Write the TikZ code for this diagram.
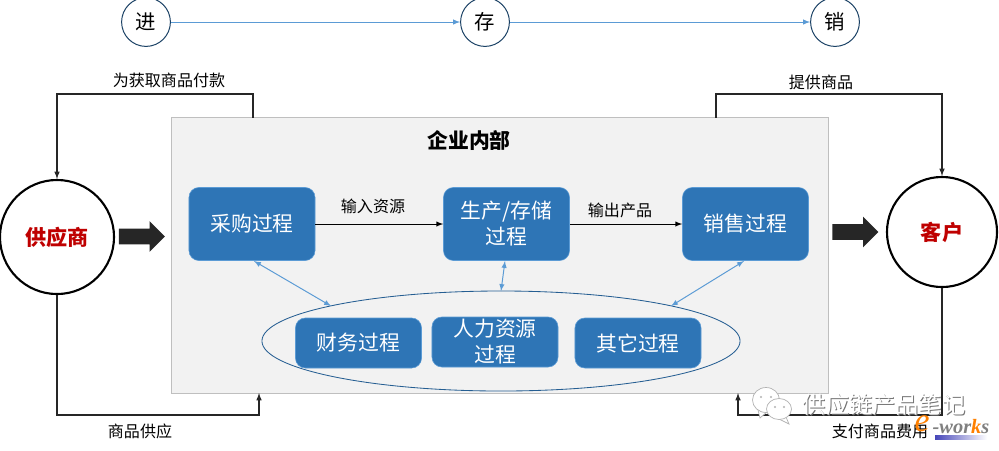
\documentclass[tikz,border=0pt]{standalone}
\usepackage{fontspec}
\setmainfont{Noto Sans CJK SC}
\newfontfamily\logofont{Liberation Serif}
\usepackage{tikz}
\usetikzlibrary{arrows,calc,shapes.arrows,shapes.geometric}
\definecolor{boxblue}{HTML}{2E75B6}
\definecolor{linkblue}{HTML}{5B9BD5}
\definecolor{panelgray}{HTML}{F2F2F2}
\tikzset{
  procbox/.style={draw=linkblue,fill=boxblue,rounded corners=7pt,text=white,align=center,inner sep=0pt,
    minimum width=3.15cm,font=\fontsize{14.8}{18.5}\selectfont},
  stagecircle/.style={circle,draw=boxblue!55!black,line width=.7pt,fill=white,minimum size=1.22cm,inner sep=0pt,font=\fontsize{14.5}{16}\selectfont},
  partycircle/.style={circle,draw=black,line width=1.5pt,fill=white,inner sep=0pt,text=red!75!black,font=\fontsize{15}{16}\selectfont\bfseries},
  flowlabel/.style={font=\fontsize{11.4}{13}\selectfont,inner sep=0pt},
  bigarrow/.style={single arrow,fill=black!85,inner sep=.1875cm,minimum width=.75cm,minimum height=1.15cm,single arrow head extend=.1875cm},
  loopline/.style={draw=black!85,line width=.8pt,-latex},
  linkline/.style={draw=linkblue,line width=.7pt,latex-latex},
  bubble/.style={draw=black!30,fill=white,line width=.5pt},
}
\begin{document}
\begin{tikzpicture}[x=0.025cm,y=-0.025cm]
\useasboundingbox (0,0) rectangle (999,450);

% top row
\node[stagecircle] (jin) at (146,22) {进};
\node[stagecircle] (cun) at (485,22) {存};
\node[stagecircle] (xiao) at (835,22) {销};
\draw[linkline,latex-] (cun) -- (jin);
\draw[linkline,latex-] (xiao) -- (cun);

% panel
\node[draw=black!25,fill=panelgray,minimum width=16.425cm,minimum height=6.9cm,inner sep=0pt] (panel) at (499.5,255) {};
\node[font=\fontsize{14.8}{17}\selectfont\bfseries,inner sep=0pt] (title) at (469,141) {企业内部};
\coordinate (payout) at (253,117.5);
\coordinate (goodsout) at (716,117.5);
\coordinate (goodsin) at (259,393);
\coordinate (feein) at (738,393);

% parties
\node[partycircle,minimum size=2.85cm] (supplier) at (57,237) {供应商};
\node[partycircle,minimum size=2.75cm] (customer) at (942,232) {客户};
\node[bigarrow] (arrowin) at (138,236.5) {};
\node[bigarrow] (arrowout) at (851.5,232) {};

% processes
\node[procbox,minimum height=1.825cm] (purchase) at (252,224) {采购过程};
\node[procbox,minimum height=1.825cm] (produce) at (506.5,224) {生产/存储\\过程};
\node[procbox,minimum height=1.825cm] (sales) at (745.5,224) {销售过程};
\node[draw=boxblue!80!black,line width=.6pt,ellipse,minimum width=11.95cm,minimum height=2.5cm,inner sep=0pt] (support) at (501,341) {};
\node[procbox,minimum height=1.25cm] (finance) at (358.5,343) {财务过程};
\node[procbox,minimum height=1.25cm] (staff) at (495,342) {人力资源\\过程};
\node[procbox,minimum height=1.25cm] (other) at (638,343) {其它过程};

% flows
\draw[black,line width=.7pt,-latex] (purchase) -- (produce);
\draw[black,line width=.7pt,-latex] (produce) -- (sales);
\node[flowlabel] (input) at (373,206) {输入资源};
\node[flowlabel] (output) at (620,210) {输出产品};
\draw[linkline] (254,261) -- (331,306);
\draw[linkline] (505,261) -- (501,291);
\draw[linkline] (744,261) -- (671,306);

% money and goods
\draw[loopline] (payout) -- ++(0,-23.5) -| (supplier.north);
\draw[loopline] (supplier.south) |- (230,415) -| (goodsin);
\draw[loopline] (goodsout) -- ++(0,-23.5) -| (customer.north);
\draw[loopline] (customer.south) |- (800,415) -| (feein);
\node[flowlabel] (paylabel) at (169,80) {为获取商品付款};
\node[flowlabel] (goodslabel) at (140,431) {商品供应};
\node[flowlabel] (offerlabel) at (821,82) {提供商品};
\node[flowlabel] (feelabel) at (880,431) {支付商品费用};

% watermark
\draw[bubble] (758,410) -- (760,418) -- (768,411);
\draw[bubble] (766,400) ellipse (13.5 and 12.5);
\draw[bubble] (786,417) -- (789,424) -- (779,419);
\draw[bubble] (779,409) ellipse (12.5 and 10.5);
\foreach \ex/\ey in {761/397,771/397,775/407,784/407}
  \fill[black!30] (\ex,\ey) circle (1.2);
\node[font=\fontsize{16.5}{18}\selectfont,text=black!55,inner sep=0pt] (markshadow) at (885,406) {供应链产品笔记};
\node[font=\fontsize{16.5}{18}\selectfont,text=white,inner sep=0pt] (mark) at (884,405) {供应链产品笔记};
\node[font=\logofont\fontsize{24}{24}\selectfont\itshape,text=orange,inner sep=0pt] (logoe) at (922,424) {e};
\node[font=\logofont\fontsize{14.5}{14}\selectfont\bfseries\itshape,text=black!50,inner sep=0pt] (logo) at (961,427) {-wor\textcolor{orange}{k}s};
\fill[left color=blue!45!gray,right color=white] (935,435) rectangle (987,439);
\end{tikzpicture}
\end{document}
